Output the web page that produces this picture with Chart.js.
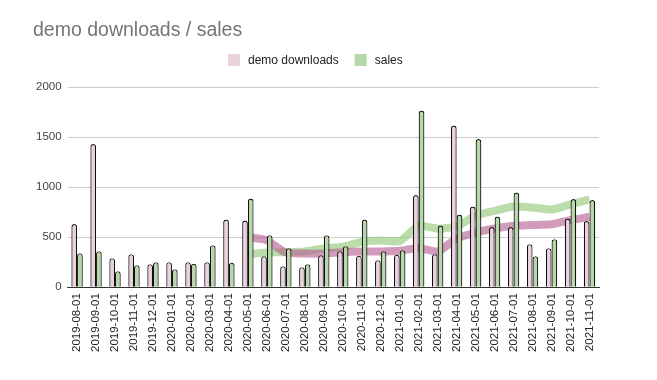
<!DOCTYPE html>
<html>
<head>
<meta charset="utf-8">
<script src="https://cdn.jsdelivr.net/npm/chart.js@4/dist/chart.umd.min.js"></script>
<style>
html,body{margin:0;padding:0;background:#fff;}
#wrap{width:657px;height:380px;position:relative;}
</style>
</head>
<body>
<div id="wrap"><canvas id="c" width="657" height="380"></canvas></div>
<script>
const categories = ["2019-08-01","2019-09-01","2019-10-01","2019-11-01","2019-12-01","2020-01-01","2020-02-01","2020-03-01","2020-04-01","2020-05-01","2020-06-01","2020-07-01","2020-08-01","2020-09-01","2020-10-01","2020-11-01","2020-12-01","2021-01-01","2021-02-01","2021-03-01","2021-04-01","2021-05-01","2021-06-01","2021-07-01","2021-08-01","2021-09-01","2021-10-01","2021-11-01"];
const demoDownloads = [630,1430,290,330,230,250,250,250,675,665,310,210,200,320,360,315,270,325,920,330,1615,805,600,600,430,390,685,660];
const sales = [340,360,160,220,250,180,235,420,245,885,520,390,230,520,410,675,360,370,1765,615,725,1480,705,945,310,480,880,870];
const yTicks = [0,500,1000,1500,2000];
const trendPeriod = 10;
const titleText = 'demo downloads / sales';

function movingAverage(arr, n){
  return arr.map((v,i)=>{
    if(i < n-1) return null;
    let s=0; for(let k=i-n+1;k<=i;k++) s+=arr[k];
    return s/n;
  });
}

const FONT = "'Liberation Sans', Arial, sans-serif";

const headerPlugin = {
  id:'header',
  afterDraw(chart){
    const ctx = chart.ctx;
    ctx.save();
    ctx.fillStyle = '#757575';
    ctx.font = "19.5px " + FONT;
    ctx.textBaseline = 'middle';
    ctx.textAlign = 'left';
    ctx.fillText(titleText, 33, 31);
    ctx.font = "12px " + FONT;
    let x = 228;
    const y = 60;
    const items = chart.data.datasets.filter(d=>d.type!=='line');
    items.forEach(d=>{
      ctx.fillStyle = d.backgroundColor;
      ctx.fillRect(x, y-6, 12, 12);
      x += 20;
      ctx.fillStyle = '#222';
      ctx.fillText(d.label, x, y+0.5);
      x += ctx.measureText(d.label).width + 16;
    });
    ctx.restore();
  }
};

new Chart(document.getElementById('c'), {
  type: 'bar',
  data: {
    labels: categories,
    datasets: [
      { type:'line', label:'demo trend', data: movingAverage(demoDownloads, trendPeriod),
        borderColor:'rgba(180,95,145,0.62)', borderWidth:8, pointRadius:0, fill:false, order:2, tension:0.2 },
      { type:'line', label:'sales trend', data: movingAverage(sales, trendPeriod),
        borderColor:'rgba(145,198,120,0.62)', borderWidth:8, pointRadius:0, fill:false, order:2, tension:0.2 },
      { label:'demo downloads', data: demoDownloads, backgroundColor:'#ead1dc', borderColor:'#111',
        borderWidth:1.2, borderRadius:{topLeft:3,topRight:3}, borderSkipped:'bottom', order:1,
        categoryPercentage:0.6, barPercentage:1.0 },
      { label:'sales', data: sales, backgroundColor:'#b6d7a8', borderColor:'#111',
        borderWidth:1.2, borderRadius:{topLeft:3,topRight:3}, borderSkipped:'bottom', order:1,
        categoryPercentage:0.6, barPercentage:1.0 }
    ]
  },
  plugins:[headerPlugin],
  options: {
    responsive:false,
    animation:false,
    devicePixelRatio:1,
    layout:{ padding:{ left:30, right:58, top:87, bottom:22 } },
    plugins:{
      title:{ display:false },
      legend:{ display:false },
      tooltip:{ enabled:false }
    },
    scales:{
      x:{
        grid:{ display:false, drawTicks:false },
        border:{ display:true, color:'#333', width:1 },
        ticks:{ autoSkip:false, minRotation:90, maxRotation:90, color:'#222', padding:6,
          font:{ family:FONT, size:11.5 } }
      },
      y:{
        min:0, max:2000,
        afterBuildTicks:(axis)=>{ axis.ticks = yTicks.map(v=>({value:v})); },
        grid:{ color:'#cccccc', drawTicks:false },
        border:{ display:false },
        ticks:{ color:'#444', padding:6, font:{ family:FONT, size:11.5 },
          callback:(v)=>String(v) }
      }
    }
  }
});
</script>
</body>
</html>
